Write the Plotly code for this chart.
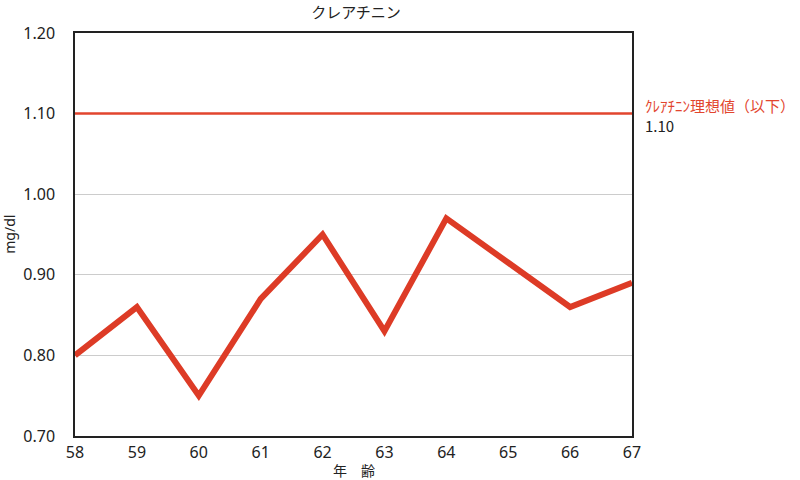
import plotly.graph_objects as go

ages = [58, 59, 60, 61, 62, 63, 64, 65, 66, 67]
creatinine = [0.80, 0.86, 0.75, 0.87, 0.95, 0.83, 0.97, 0.915, 0.86, 0.89]
ideal_value = 1.10
y_ticks = [0.70, 0.80, 0.90, 1.00, 1.10, 1.20]

fig = go.Figure()
fig.add_trace(go.Scatter(x=ages, y=creatinine, mode="lines",
                         line=dict(color="#DD3B26", width=6), showlegend=False))
fig.add_hline(y=ideal_value, line=dict(color="#E2452E", width=2.5))
fig.add_annotation(x=1.0, xref="paper", y=ideal_value, yref="y", xanchor="left", yanchor="middle",
                   align="left", xshift=11, yshift=-2, showarrow=False,
                   text=("<span style='color:#E2452E'>ｸﾚｱﾁﾆﾝ理想値（以下）</span><br>"
                         f"{ideal_value:.2f}"),
                   font=dict(color="#222222", size=15, family="Noto Sans CJK JP"))
# axis titles
fig.add_annotation(x=-0.118, xref="paper", y=0.5, yref="paper", xanchor="center", yanchor="middle",
                   showarrow=False, textangle=-90, text="mg/dl", font=dict(size=14, family="Noto Sans"))
fig.add_annotation(x=0.5, xref="paper", y=0, yref="paper", xanchor="center", yanchor="middle",
                   yshift=-34, showarrow=False, text="年　齢", font=dict(size=14, family="Noto Sans CJK JP"))

fig.update_layout(
    width=800, height=480,
    margin=dict(l=75, r=168, t=33, b=44, autoexpand=False),
    paper_bgcolor="white", plot_bgcolor="white",
    title=dict(text="クレアチニン", x=0.445, xanchor="center", y=1 - 13 / 480, yanchor="middle",
               font=dict(size=15, color="#222222", family="Noto Sans CJK JP")),
    font=dict(family="Noto Sans", color="#222222"),
)
fig.update_xaxes(range=[58, 67], tickvals=ages, ticktext=[str(a) for a in ages],
                 showgrid=False, showline=True, linecolor="#222222", linewidth=1.5, mirror=True,
                 ticks="", tickfont=dict(size=16), ticklabelstandoff=1, automargin=False)
fig.update_yaxes(range=[0.70, 1.20], tickvals=y_ticks, ticktext=[f"{v:.2f}" for v in y_ticks],
                 showgrid=True, gridcolor="#CCCCCC", gridwidth=1, zeroline=False,
                 showline=True, linecolor="#222222", linewidth=1.5, mirror=True,
                 ticks="", tickfont=dict(size=16), ticklabelstandoff=15, automargin=False)

fig.write_html("out.html", config={"displayModeBar": False},
               post_script="document.body.style.margin='0';")
